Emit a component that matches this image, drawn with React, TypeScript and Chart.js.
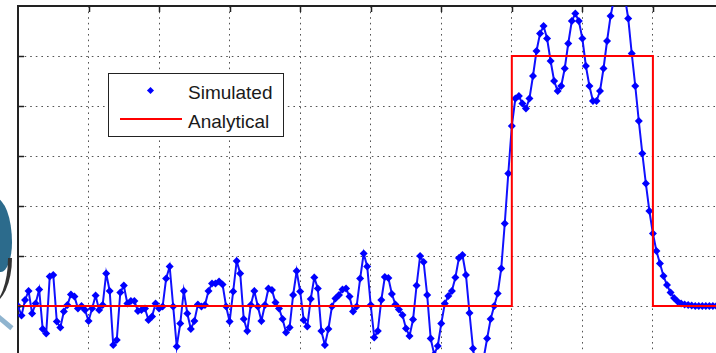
import React, { useEffect, useRef } from "react";
import { Chart, registerables } from "chart.js";

Chart.register(...registerables);

// Sample spacing of the simulated series along the x axis
const SAMPLE_STEP = 0.05;

// Simulated response (one value per sample)
const simulatedValues = [
  0, -0.19, 0.12, 0.3, -0.15, 0.05, 0.33, -0.46, -0.55, 0.59,
  0.62, -0.31, -0.43, -0.11, 0.02, 0.23, 0.19, -0.05, 0, -0.08,
  -0.3, -0.05, 0.21, -0.08, 0.02, 0.65, 0.3, -0.78, -0.68, 0.27,
  0.41, 0.05, 0.1, 0.1, -0.1, -0.08, -0.05, -0.28, -0.21, 0.05,
  -0.05, -0.01, 0.55, 0.79, -0.01, -0.81, -0.35, 0.3, -0.15, -0.46,
  -0.3, 0.03, -0.01, 0.02, 0.3, 0.45, 0.45, 0.49, 0.43, -0.01,
  -0.31, 0.29, 0.9, 0.65, -0.26, -0.5, 0.02, 0.3, -0.01, -0.3,
  0.02, 0.35, 0.32, 0.07, -0.05, -0.26, -0.53, -0.43, 0.22, 0.7,
  0.29, -0.28, -0.41, 0.14, 0.57, 0.35, -0.5, -0.78, -0.46, -0.01,
  0.15, 0.22, 0.33, 0.35, 0.19, -0.11, -0.01, 0.55, 1.05, 0.79,
  0.02, -0.63, -0.5, 0.12, 0.58, 0.56, 0.24, 0.03, -0.07, -0.18,
  -0.45, -0.6, -0.27, 0.41, 1.0, 0.88, 0.22, -0.65, -0.97, -0.8,
  -0.35, 0.05, 0.2, 0.3, 0.57, 0.96, 1.02, 0.62, -0.14, -0.85,
  -1.3, -1.4, -1.05, -0.65, -0.26, 0.0, 0.25, 0.75, 1.65, 2.65,
  3.6, 4.15, 4.2, 4.05, 3.95, 4.15, 4.6, 5.1, 5.45, 5.6,
  5.35, 4.9, 4.5, 4.3, 4.4, 4.75, 5.25, 5.7, 5.85, 5.7,
  5.35, 4.8, 4.4, 4.1, 4.1, 4.3, 4.75, 5.3, 5.8, 6.15,
  6.45, 6.5, 6.2, 5.75, 5.05, 4.4, 3.7, 3.05, 2.45, 1.9,
  1.45, 1.1, 0.85, 0.6, 0.42, 0.27, 0.16, 0.09, 0.05, 0.03,
  0.02, 0.01, 0, 0, 0, 0, 0, 0, 0, 0, 0,
];

// Analytical (ideal) step response
const analyticalX = [0, 7, 7, 9, 9, 11];
const analyticalY = [0, 0, 5, 5, 0, 0];

// Axis ranges and grid/tick positions
const xRange = [0, 11];
const yRange = [-2, 6];
const xTickValues = [1, 2, 3, 4, 5, 6, 7, 8, 9, 10];
const yTickValues = [-1, 0, 1, 2, 3, 4, 5];

const legendLabels = ["Simulated", "Analytical"];

export default function App() {
  const canvasRef = useRef<HTMLCanvasElement | null>(null);

  useEffect(() => {
    const canvas = canvasRef.current;
    if (!canvas) return;

    const innerTicks = {
      id: "innerTicks",
      afterDraw(chart: any) {
        const { ctx, chartArea, scales } = chart;
        ctx.save();
        ctx.strokeStyle = "#222";
        ctx.lineWidth = 1.5;
        ctx.setLineDash([]);
        for (const v of xTickValues) {
          const px = Math.round(scales.x.getPixelForValue(v)) + 0.5;
          ctx.beginPath();
          ctx.moveTo(px, chartArea.top);
          ctx.lineTo(px, chartArea.top + 6);
          ctx.stroke();
        }
        for (const v of yTickValues) {
          const py = Math.round(scales.y.getPixelForValue(v)) + 0.5;
          ctx.beginPath();
          ctx.moveTo(chartArea.left, py);
          ctx.lineTo(chartArea.left + 6, py);
          ctx.stroke();
        }
        ctx.restore();
      },
    };

    const gridColor = "rgba(40,40,40,0.8)";
    const gridDash = [1.6, 4];

    const chart = new Chart(canvas, {
      type: "line",
      data: {
        datasets: [
          {
            label: legendLabels[1],
            data: analyticalX.map((x, i) => ({ x, y: analyticalY[i] })),
            borderColor: "#ff0000",
            backgroundColor: "#ff0000",
            borderWidth: 2,
            pointRadius: 0,
            tension: 0,
            order: 0,
          },
          {
            label: legendLabels[0],
            data: simulatedValues.map((y, i) => ({ x: i * SAMPLE_STEP, y })),
            borderColor: "#1010ff",
            backgroundColor: "#0000ff",
            borderWidth: 2,
            pointStyle: "rectRot",
            pointRadius: 4,
            pointBorderWidth: 0,
            pointBackgroundColor: "#0000ff",
            tension: 0,
            order: 1,
          },
        ],
      },
      options: {
        responsive: false,
        animation: false,
        devicePixelRatio: 1,
        events: [],
        layout: { padding: { left: 18, top: 6, right: 0, bottom: 0 } },
        plugins: {
          legend: { display: false },
          tooltip: { enabled: false },
        },
        scales: {
          x: {
            type: "linear",
            position: "bottom",
            min: xRange[0],
            max: xRange[1],
            ticks: { display: false, stepSize: 1 },
            grid: { drawTicks: false, color: gridColor, lineWidth: 1 },
            border: { display: false, dash: gridDash },
          },
          x2: {
            type: "linear",
            position: "top",
            min: xRange[0],
            max: xRange[1],
            ticks: { display: false },
            grid: { display: false, drawTicks: false },
            border: { display: true, color: "#222", width: 2 },
          },
          y: {
            type: "linear",
            min: yRange[0],
            max: yRange[1],
            ticks: { display: false, stepSize: 1 },
            grid: { drawTicks: false, color: gridColor, lineWidth: 1 },
            border: { display: true, color: "#222", width: 2, dash: gridDash },
          },
        },
      } as any,
      plugins: [innerTicks],
    });

    return () => chart.destroy();
  }, []);

  const textStyle: React.CSSProperties = {
    position: "absolute",
    left: 79,
    fontFamily: "'Liberation Sans', Arial, sans-serif",
    fontSize: 19,
    lineHeight: "19px",
    color: "#1a1a1a",
    whiteSpace: "nowrap",
  };

  return (
    <div
      style={{
        position: "fixed",
        left: 0,
        top: 0,
        width: 716,
        height: 353,
        overflow: "hidden",
        background: "#ffffff",
      }}
    >
      <canvas
        ref={canvasRef}
        width={798}
        height={410}
        style={{ position: "absolute", left: 0, top: 0 }}
      />
      {/* decorative remnant of a logo at the left edge */}
      <div
        style={{
          position: "absolute",
          left: -16,
          top: 198,
          width: 28,
          height: 74,
          background: "#2c6b8c",
          borderRadius: "0 60% 40% 0",
        }}
      />
      <div
        style={{
          position: "absolute",
          left: -10,
          top: 258,
          width: 18,
          height: 46,
          borderRight: "4px solid #333",
          borderRadius: "0 0 100% 0",
        }}
      />
      <div
        style={{
          position: "absolute",
          left: -4,
          top: 320,
          width: 18,
          height: 5,
          background: "#8fb4cf",
          transform: "rotate(40deg)",
        }}
      />
      {/* legend */}
      <div
        style={{
          position: "absolute",
          left: 108,
          top: 73,
          width: 174,
          height: 62,
          border: "1px solid #222",
          background: "#ffffff",
        }}
      >
        <div
          style={{
            position: "absolute",
            left: 39,
            top: 14,
            width: 5,
            height: 5,
            background: "#0000ff",
            transform: "rotate(45deg)",
          }}
        />
        <span style={{ ...textStyle, top: 9 }}>{legendLabels[0]}</span>
        <div
          style={{
            position: "absolute",
            left: 11,
            top: 44,
            width: 62,
            height: 1.5,
            background: "#ff0000",
          }}
        />
        <span style={{ ...textStyle, top: 38 }}>{legendLabels[1]}</span>
      </div>
    </div>
  );
}
